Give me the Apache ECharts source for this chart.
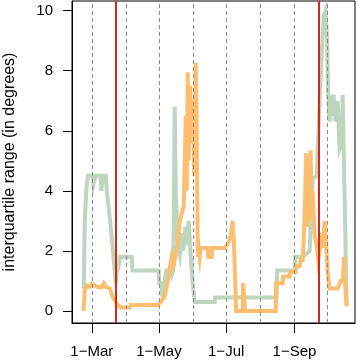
<!DOCTYPE html>
<html>
<head>
<meta charset="utf-8">
<script src="https://cdn.jsdelivr.net/npm/echarts@6/dist/echarts.min.js"></script>
<style>
  html, body { margin: 0; padding: 0; background: #fff; }
  #chart { width: 358px; height: 362px; }
</style>
</head>
<body>
<div id="chart"></div>
<script>
// x values are days counted from 1 March
const tickDays = [0, 61, 122, 184];
const tickLabels = ['1\u2212Mar', '1\u2212May', '1\u2212Jul', '1\u2212Sep'];
const monthStarts = [0, 31, 61, 92, 122, 153, 184, 214];
const equinoxDays = [21.6, 206.3];
const yTicks = [0, 2, 4, 6, 8, 10];

// green series [day, iqr]
const greenSeries = [
  [-7.3, 0.75], [-6.4, 3.0], [-5.0, 4.0], [-3.6, 4.5], [0.9, 4.5], [1.4, 4.2], [2.7, 4.2],
  [3.2, 4.5], [8.2, 4.5], [8.6, 4.0], [10, 4.0], [10.4, 4.5], [12.7, 4.5], [13.6, 4.0],
  [17.2, 2.8], [20.9, 1.3], [21.8, 0.9], [22.7, 1.3], [24.5, 1.5], [25.4, 1.8], [36.3, 1.8],
  [36.8, 1.35], [60.8, 1.35], [61.3, 0.92], [63.5, 0.92], [64, 0.48], [65.3, 0.48],
  [65.8, 0.92], [67.6, 1.35], [71.7, 1.35], [72.6, 1.2], [74, 1.35], [75.3, 6.8], [76.2, 4.0],
  [78, 2.3], [79.9, 1.9], [81.7, 2.6], [83, 2.0], [84.8, 2.8], [86.2, 2.2], [88, 3.0],
  [89.8, 1.8], [91.7, 0.9], [93.5, 0.3], [111.6, 0.3], [112, 0.45], [167.9, 0.45],
  [168.3, 1.35], [184.2, 1.35], [184.7, 1.8], [191.5, 1.8], [197.8, 2.0], [200.5, 4.4],
  [204.2, 4.5], [206.9, 7.0], [208.7, 8.5], [210.5, 9.8], [212.3, 10.0], [213.7, 9.0],
  [214.6, 7.2], [216, 6.3], [216.9, 7.2], [218.7, 6.5], [219.6, 7.2], [221.4, 6.3],
  [223.2, 7.0], [225, 5.4], [226.9, 5.6], [227.8, 7.2], [229.1, 7.2], [230.5, 2.0], [231.4, 0.2]
];

// orange series [day, iqr]
const orangeSeries = [
  [-7.5, 0.0], [-6.4, 0.7], [-4.5, 0.85], [-1.8, 0.8], [0, 0.9], [2.7, 0.85], [4.5, 0.85],
  [5.4, 0.8], [9.1, 0.8], [10.9, 0.92], [12.7, 0.8], [16.3, 0.75], [19.1, 0.45], [20.9, 0.35],
  [23.6, 0.2], [26.3, 0.12], [34.5, 0.12], [35.4, 0.2], [59.9, 0.2], [63.5, 0.35], [66.2, 0.5],
  [69, 1.0], [70.8, 1.45], [72.6, 1.8], [74.4, 1.55], [76.2, 1.9], [78, 2.25], [79.9, 3.0],
  [83.5, 3.5], [85.3, 6.5], [86.2, 4.0], [87.1, 7.95], [88, 5.0], [89.4, 7.5], [90.7, 5.6],
  [92.1, 7.0], [93, 4.5], [94.4, 8.26], [95.3, 6.0], [96.2, 1.8], [97.1, 2.1], [98, 1.8],
  [98.9, 2.1], [105.3, 2.1], [105.7, 1.8], [108.9, 1.8], [109.3, 2.1], [120.7, 2.1],
  [124.3, 2.3], [126.1, 2.5], [127.9, 3.0], [128.9, 2.4], [131.1, 0.0], [137, 0.0],
  [137.4, 0.93], [138.8, 0.93], [139.2, 0.0], [167, 0.0], [167.4, 0.92], [173.3, 0.92],
  [173.7, 1.15], [179.7, 1.15], [180.1, 1.3], [185.1, 1.3], [185.6, 1.5], [188.7, 1.5],
  [189.6, 1.7], [191.5, 1.7], [192.4, 2.3], [193.7, 3.8], [194.6, 5.25], [195.5, 2.8],
  [196.4, 4.6], [197.3, 3.0], [198.7, 5.35], [199.6, 3.5], [200.5, 4.0], [202.3, 2.5],
  [204.2, 2.2], [205.5, 1.7], [206.9, 2.0], [208.7, 2.6], [209.6, 2.1], [211.4, 3.0],
  [212.8, 2.2], [214.2, 1.3], [216, 0.75], [218.7, 0.75], [219.6, 0.8], [223.2, 0.75],
  [225, 0.75], [225.9, 1.0], [227.8, 1.0], [229.1, 1.8], [230, 0.9], [231.4, 0.15]
];

const chart = echarts.init(document.getElementById('chart'), null, { renderer: 'canvas' });
const font = 'Liberation Sans';

chart.setOption({
  animation: false,
  grid: {
    left: 72, right: 3, top: 1, bottom: 39,
    outerBoundsMode: 'none',
    containLabel: false,
    show: true, borderColor: '#000', borderWidth: 1, backgroundColor: 'transparent'
  },
  xAxis: {
    type: 'value',
    min: -18,
    max: 239,
    axisLine: { show: true, onZero: false, lineStyle: { color: '#000', width: 1 } },
    axisTick: { show: true, length: 10, customValues: tickDays, lineStyle: { color: '#000' } },
    axisLabel: {
      customValues: tickDays,
      margin: 21,
      fontFamily: font, fontSize: 15, color: '#000',
      formatter: function (v) {
        const i = tickDays.indexOf(v);
        return i >= 0 ? tickLabels[i] : '';
      }
    },
    splitLine: { show: false }
  },
  yAxis: {
    type: 'value',
    min: -0.4,
    max: 10.32,
    name: 'interquartile range (in degrees)',
    nameLocation: 'middle',
    nameGap: 54,
    nameTextStyle: { fontFamily: font, fontSize: 16, color: '#000' },
    axisLine: { show: true, onZero: false, lineStyle: { color: '#000', width: 1 } },
    axisTick: { show: true, length: 9, customValues: yTicks, lineStyle: { color: '#000' } },
    axisLabel: { customValues: yTicks, margin: 19, fontFamily: font, fontSize: 15, color: '#000' },
    splitLine: { show: false }
  },
  series: [
    {
      type: 'line',
      data: [],
      z: 1,
      markLine: {
        silent: true,
        symbol: 'none',
        label: { show: false },
        lineStyle: { color: '#8c8c8c', type: [4, 3], width: 1 },
        data: monthStarts.map(d => ({ xAxis: d }))
      }
    },
    {
      name: 'green',
      type: 'line',
      data: greenSeries,
      showSymbol: false,
      z: 2,
      lineStyle: { color: '#bdd6bd', width: 4, join: 'miter' }
    },
    {
      name: 'orange',
      type: 'line',
      data: orangeSeries,
      showSymbol: false,
      z: 3,
      lineStyle: { color: '#fdbf6f', width: 4, join: 'miter' }
    },
    {
      type: 'line',
      data: [],
      z: 4,
      markLine: {
        silent: true,
        symbol: 'none',
        label: { show: false },
        lineStyle: { color: '#d42a1c', type: 'solid', width: 2 },
        data: equinoxDays.map(d => ({ xAxis: d }))
      }
    }
  ]
});
</script>
</body>
</html>
